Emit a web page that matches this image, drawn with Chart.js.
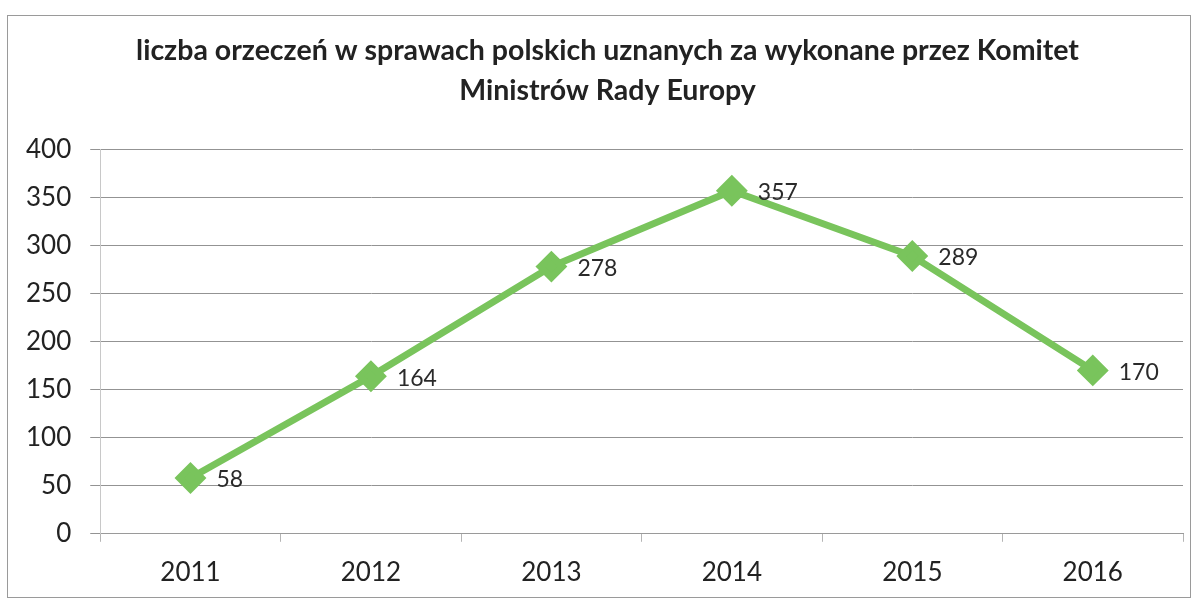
<!DOCTYPE html>
<html>
<head>
<meta charset="utf-8">
<script src="https://cdn.jsdelivr.net/npm/chart.js@4/dist/chart.umd.min.js"></script>
<style>
  html, body { margin: 0; padding: 0; background: #ffffff; }
  #box { position: absolute; left: 7px; top: 15px; width: 1182px; height: 581px; border: 1px solid #9a9a9a; background: #fff; overflow: hidden; }
  canvas { display: block; }
</style>
</head>
<body>
<div id="box"><canvas id="c" width="1182" height="581"></canvas></div>
<script>
const titleLines = ['liczba orzeczeń w sprawach polskich uznanych za wykonane przez Komitet', 'Ministrów Rady Europy'];
const categories = ['2011', '2012', '2013', '2014', '2015', '2016'];
const values = [58, 164, 278, 357, 289, 170];
const yTicks = [0, 50, 100, 150, 200, 250, 300, 350, 400];

const pointLabels = {
  id: 'pointLabels',
  afterDatasetsDraw(chart) {
    const ctx = chart.ctx;
    const meta = chart.getDatasetMeta(0);
    ctx.save();
    ctx.font = '23px Lato';
    ctx.fillStyle = '#2a2a2a';
    ctx.textAlign = 'left';
    ctx.textBaseline = 'middle';
    meta.data.forEach((pt, i) => {
      ctx.fillText(String(values[i]), pt.x + 26, pt.y + 2);
    });
    ctx.restore();
  }
};

new Chart(document.getElementById('c'), {
  type: 'line',
  data: {
    labels: categories,
    datasets: [{
      data: values,
      borderColor: '#79c45c',
      backgroundColor: '#79c45c',
      borderWidth: 7,
      pointStyle: 'rectRot',
      pointRadius: 11,
      pointHoverRadius: 11,
      tension: 0,
      fill: false
    }]
  },
  options: {
    responsive: false,
    animation: false,
    events: [],
    layout: { autoPadding: false, padding: { left: -1, right: -18, top: 0, bottom: -6 } },
    plugins: {
      legend: { display: false },
      tooltip: { enabled: false },
      title: {
        display: true,
        text: titleLines,
        color: '#222',
        font: { family: 'Lato', size: 28.5, weight: 'bold', lineHeight: 1.41 },
        padding: { top: 15, bottom: 38 }
      }
    },
    scales: {
      x: {
        offset: true,
        grid: { display: true, drawOnChartArea: false, drawTicks: true, tickLength: 8, color: '#b5b5b5', offset: true },
        border: { display: true, color: '#9a9a9a' },
        ticks: { color: '#222', font: { family: 'Lato', size: 26 }, padding: 15 }
      },
      y: {
        min: 0, max: 400,
        afterBuildTicks(scale) { scale.ticks = yTicks.map(v => ({ value: v })); },
        grid: { color: '#939393', lineWidth: 1, tickLength: 10 },
        border: { display: true, color: '#c8c8c8' },
        ticks: { color: '#222', font: { family: 'Lato', size: 26 }, padding: 19 }
      },
      spacer: {
        type: 'linear',
        position: 'right',
        display: true,
        grid: { display: false, drawTicks: false },
        border: { display: false },
        ticks: { display: false },
        afterFit(scale) { scale.width = 25; }
      }
    }
  },
  plugins: [pointLabels]
});
</script>
</body>
</html>
